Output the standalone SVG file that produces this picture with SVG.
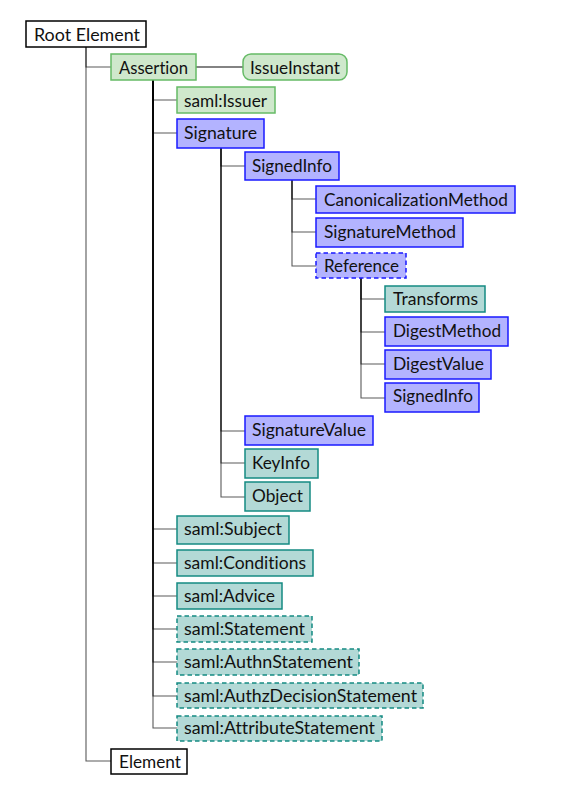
<svg xmlns="http://www.w3.org/2000/svg" width="569" height="793" viewBox="0 0 569 793">
<style>
rect{stroke-width:1.5}
.w{fill:#fff;stroke:#000}
.g{fill:#cfe8cc;stroke:#66bb66}
.b{fill:#b3b3ff;stroke:#1a1aff}
.t{fill:#b3d9d6;stroke:#148a82}
.d{stroke-dasharray:4.5 3}
text{font-family:Lato,"Open Sans","Liberation Sans",sans-serif;font-size:17.5px;fill:#111;font-variant-ligatures:none}
#connectors path{fill:none;stroke:#000;stroke-opacity:0.65;stroke-width:1.1}
</style>
<rect width="569" height="793" fill="#fff" stroke="none"/>
<g id="connectors">
<path d="M86,47 V67 H111"/>
<path d="M86,47 V761 H111"/>
<path d="M196,67 H243" style="stroke-width:1.6"/>
<path d="M153,80 V100 H177"/>
<path d="M153,80 V133 H177"/>
<path d="M153,80 V529 H177"/>
<path d="M153,80 V563 H177"/>
<path d="M153,80 V596 H177"/>
<path d="M153,80 V629 H177"/>
<path d="M153,80 V662 H177"/>
<path d="M153,80 V696 H177"/>
<path d="M153,80 V728 H177"/>
<path d="M221,148 V166 H245"/>
<path d="M221,148 V431 H245"/>
<path d="M221,148 V463 H245"/>
<path d="M221,148 V497 H245"/>
<path d="M292,180 V199 H316"/>
<path d="M292,180 V232 H316"/>
<path d="M292,180 V266 H316"/>
<path d="M361,278 V299 H385"/>
<path d="M361,278 V332 H385"/>
<path d="M361,278 V364 H385"/>
<path d="M361,278 V398 H385"/>
</g>
<g id="root"><rect class="w" x="26" y="21" width="120" height="26"/><text x="34" y="40.5" textLength="106" lengthAdjust="spacingAndGlyphs">Root Element</text></g>
<g id="assertion"><rect class="g" x="111" y="54" width="85" height="26"/><text x="119" y="73.5" textLength="69" lengthAdjust="spacingAndGlyphs">Assertion</text></g>
<g id="issueinstant"><rect class="g" x="243" y="54" width="104" height="26" rx="8"/><text x="250" y="73.5" textLength="90" lengthAdjust="spacingAndGlyphs">IssueInstant</text></g>
<g id="issuer"><rect class="g" x="177" y="87" width="98" height="26"/><text x="184" y="106.5" textLength="83" lengthAdjust="spacingAndGlyphs">saml:Issuer</text></g>
<g id="signature"><rect class="b" x="177" y="119" width="87" height="29"/><text x="184" y="138.5" textLength="73" lengthAdjust="spacingAndGlyphs">Signature</text></g>
<g id="signedinfo"><rect class="b" x="245" y="152" width="94" height="28"/><text x="252" y="171.5" textLength="80" lengthAdjust="spacingAndGlyphs">SignedInfo</text></g>
<g id="canonicalizationmethod"><rect class="b" x="316" y="186" width="199" height="27"/><text x="324" y="205.5" textLength="184" lengthAdjust="spacingAndGlyphs">CanonicalizationMethod</text></g>
<g id="signaturemethod"><rect class="b" x="316" y="218" width="147" height="29"/><text x="324" y="237.5" textLength="132" lengthAdjust="spacingAndGlyphs">SignatureMethod</text></g>
<g id="reference"><rect class="b d" x="316" y="253" width="90" height="25"/><text x="324" y="272" textLength="75" lengthAdjust="spacingAndGlyphs">Reference</text></g>
<g id="transforms"><rect class="t" x="385" y="286" width="100" height="26"/><text x="393" y="305" textLength="85" lengthAdjust="spacingAndGlyphs">Transforms</text></g>
<g id="digestmethod"><rect class="b" x="385" y="317" width="123" height="29"/><text x="393" y="336.5" textLength="108" lengthAdjust="spacingAndGlyphs">DigestMethod</text></g>
<g id="digestvalue"><rect class="b" x="385" y="350" width="106" height="29"/><text x="393" y="369.5" textLength="91" lengthAdjust="spacingAndGlyphs">DigestValue</text></g>
<g id="signedinfo2"><rect class="b" x="385" y="383" width="94" height="29"/><text x="393" y="402.3" textLength="80" lengthAdjust="spacingAndGlyphs">SignedInfo</text></g>
<g id="signaturevalue"><rect class="b" x="245" y="416" width="128" height="29"/><text x="252" y="435.5" textLength="114" lengthAdjust="spacingAndGlyphs">SignatureValue</text></g>
<g id="keyinfo"><rect class="t" x="245" y="449" width="73" height="29"/><text x="252" y="468.5" textLength="58" lengthAdjust="spacingAndGlyphs">KeyInfo</text></g>
<g id="object"><rect class="t" x="245" y="482" width="65" height="29"/><text x="252" y="501.5" textLength="51" lengthAdjust="spacingAndGlyphs">Object</text></g>
<g id="subject"><rect class="t" x="177" y="516" width="112" height="28"/><text x="184" y="534.5" textLength="98" lengthAdjust="spacingAndGlyphs">saml:Subject</text></g>
<g id="conditions"><rect class="t" x="177" y="550" width="136" height="26"/><text x="184" y="568.5" textLength="122" lengthAdjust="spacingAndGlyphs">saml:Conditions</text></g>
<g id="advice"><rect class="t" x="177" y="583" width="105" height="26"/><text x="184" y="601.5" textLength="91" lengthAdjust="spacingAndGlyphs">saml:Advice</text></g>
<g id="statement"><rect class="t d" x="177" y="616" width="135" height="26"/><text x="184" y="635" textLength="121" lengthAdjust="spacingAndGlyphs">saml:Statement</text></g>
<g id="authnstatement"><rect class="t d" x="177" y="649" width="182" height="26"/><text x="184" y="668.3" textLength="169" lengthAdjust="spacingAndGlyphs">saml:AuthnStatement</text></g>
<g id="authzdecisionstatement"><rect class="t d" x="177" y="683" width="246" height="25"/><text x="184" y="701.7" textLength="233" lengthAdjust="spacingAndGlyphs">saml:AuthzDecisionStatement</text></g>
<g id="attributestatement"><rect class="t d" x="177" y="716" width="205" height="25"/><text x="184" y="734.3" textLength="191" lengthAdjust="spacingAndGlyphs">saml:AttributeStatement</text></g>
<g id="element"><rect class="w" x="111" y="749" width="76" height="25"/><text x="119" y="768.3" textLength="62" lengthAdjust="spacingAndGlyphs">Element</text></g>
</svg>
